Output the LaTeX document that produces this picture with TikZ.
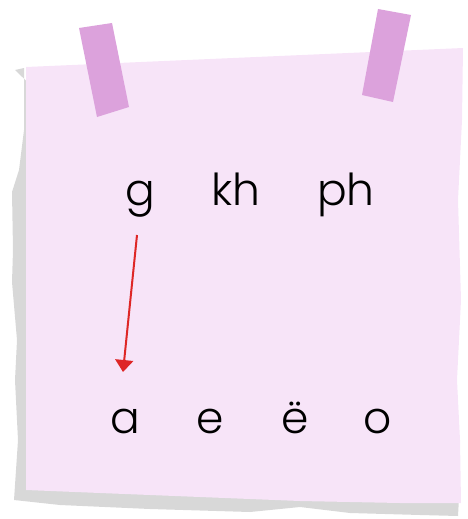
\documentclass[tikz,border=0pt]{standalone}
\usepackage{fontspec}
\IfFontExistsTF{Poppins Light}{\setmainfont{Poppins Light}}{\setmainfont{Poppins}}
\usetikzlibrary{arrows.meta}
\definecolor{paper}{RGB}{247,228,248}
\definecolor{shadowgrey}{RGB}{216,216,216}
\definecolor{tape}{RGB}{220,162,220}
\definecolor{arrowred}{RGB}{222,38,38}
\tikzset{
  letter/.style={anchor=base, inner sep=0pt, font=\fontsize{44}{50}\selectfont, text=black},
  redarrow/.style={draw=arrowred, line width=2pt, -{Triangle[width=18pt,length=12pt]}}
}
\begin{document}
\begin{tikzpicture}[x=1pt,y=-1pt]
\useasboundingbox (0,0) rectangle (467,519);
% shadow
\fill[shadowgrey] (15,70) -- (24,68) -- (24,130) -- (19,170) -- (12,192) -- (13,250) -- (12,282) -- (17,340) -- (15,380) -- (18,440) -- (14,500)
  -- (60,505) -- (150,509) -- (250,512) -- (300,507) -- (350,513) -- (420,515) -- (458,516) -- (460,480) -- (440,480) -- cycle;
% paper
\fill[paper] (26,67) -- (463,48) -- (462,120) -- (458,200) -- (461,300) -- (457,380) -- (460,440) -- (461,503)
  -- (400,503) -- (300,501) -- (200,497) -- (100,493) -- (26,490) -- cycle;
% tapes
\fill[tape] (79,28) -- (112,23) -- (129,107) -- (97,117) -- cycle;
\fill[tape] (378,9) -- (411,15) -- (393,102) -- (362,95) -- cycle;
% letters
\node[letter] (g) at (140,205) {g};
\node[letter] (kh) at (236,205) {kh};
\node[letter] (ph) at (346,205) {ph};
\node[letter] (a) at (125,433) {a};
\node[letter] (e) at (210,433) {e};
\node[letter] (edd) at (295,433) {ë};
\node[letter] (o) at (378,433) {o};
% arrow
\coordinate (s) at (137,235);
\coordinate (t) at (123,372);
\draw[redarrow] (s) -- (t);
\end{tikzpicture}
\end{document}
